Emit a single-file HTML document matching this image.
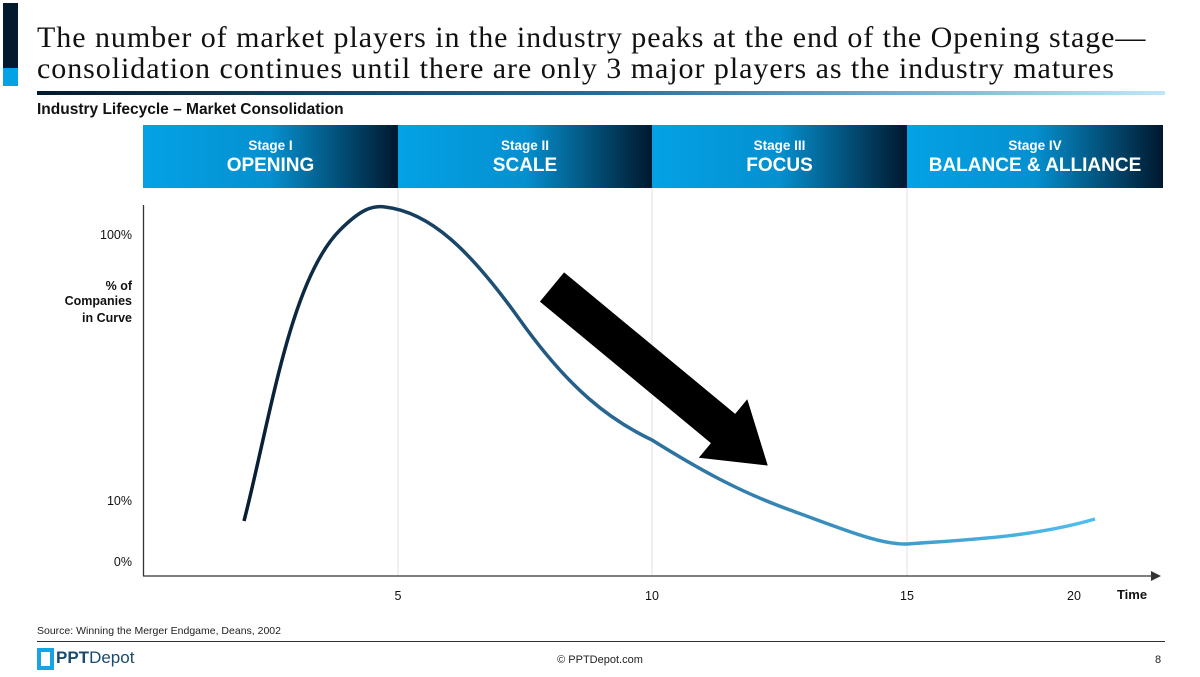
<!DOCTYPE html>
<html><head><meta charset="utf-8"><style>
body{margin:0;width:1200px;height:677px;background:#fff;position:relative;overflow:hidden;font-family:"Liberation Sans",sans-serif}
.a{position:absolute}
.stage{position:absolute;top:125px;height:63px;background:linear-gradient(90deg,#03a2e6 0%,#0590cf 50%,#00182e 100%);color:#fff;text-align:center;font-weight:bold}
.stage .s{font-size:13.5px;margin-top:13px}
.stage .n{font-size:19px;margin-top:2px}
</style></head><body>
<div class="a" style="left:3px;top:3px;width:15px;height:65px;background:#031a2e"></div>
<div class="a" style="left:3px;top:68px;width:15px;height:18px;background:#03a2e6"></div>
<div class="a" style="left:37px;top:22px;font-family:'Liberation Serif',serif;font-size:30px;letter-spacing:0.95px;line-height:31px;color:#111;white-space:nowrap">The number of market players in the industry peaks at the end of the Opening stage—<br>consolidation continues until there are only 3 major players as the industry matures</div>
<div class="a" style="left:37px;top:91px;width:1128px;height:4px;background:linear-gradient(90deg,#031a2e,#2a6b94 50%,#bfe6f8)"></div>
<div class="a" style="left:37px;top:101px;font-size:15.5px;font-weight:bold;color:#111">Industry Lifecycle – Market Consolidation</div>
<div class="stage" style="left:143px;width:255px"><div class="s">Stage I</div><div class="n">OPENING</div></div>
<div class="stage" style="left:398px;width:254px"><div class="s">Stage II</div><div class="n">SCALE</div></div>
<div class="stage" style="left:652px;width:255px"><div class="s">Stage III</div><div class="n">FOCUS</div></div>
<div class="stage" style="left:907px;width:256px"><div class="s">Stage IV</div><div class="n">BALANCE &amp; ALLIANCE</div></div>
<svg class="a" style="left:0;top:0" width="1200" height="677">
<defs><linearGradient id="g" x1="244" y1="0" x2="1095" y2="0" gradientUnits="userSpaceOnUse"><stop offset="0" stop-color="#071d33"/><stop offset="0.45" stop-color="#2a6a96"/><stop offset="1" stop-color="#4fbff0"/></linearGradient></defs>
<g stroke="#e2e2e2" stroke-width="1"><line x1="398" y1="188" x2="398" y2="576"/><line x1="652" y1="188" x2="652" y2="576"/><line x1="907" y1="188" x2="907" y2="576"/></g>
<line x1="143.5" y1="205" x2="143.5" y2="576" stroke="#333" stroke-width="1.3"/>
<line x1="143" y1="576" x2="1152" y2="576" stroke="#333" stroke-width="1.3"/>
<polygon points="1161,576 1151,571 1151,581" fill="#333"/>
<path d="M244,521 C270,420 290,280 340,230 C360,210 372,205 385,207 C430,212 470,250 520,320 C570,390 610,420 652,440 C700,470 740,492 790,510 C840,528 880,545 907,544 C960,540 1030,538 1095,519" fill="none" stroke="url(#g)" stroke-width="3.5"/>
<g transform="translate(552,287) rotate(39.6)"><polygon points="0,-19 222,-19 222,-38 280,0 222,38 222,19 0,19" fill="#000"/></g>
<g font-size="12.5" fill="#111" text-anchor="middle"><text x="398" y="600">5</text><text x="652" y="600">10</text><text x="907" y="600">15</text><text x="1074" y="600">20</text></g>
<text x="1132" y="599" font-size="13" font-weight="bold" text-anchor="middle" fill="#111">Time</text>
<g font-size="12.5" fill="#111" text-anchor="end"><text x="132" y="239">100%</text><text x="132" y="505">10%</text><text x="132" y="566">0%</text></g>
<g font-size="12.5" font-weight="bold" fill="#111" text-anchor="end"><text x="132" y="290">% of</text><text x="132" y="305">Companies</text><text x="132" y="322">in Curve</text></g>
</svg>
<div class="a" style="left:37px;top:625px;font-size:10.5px;color:#222">Source: Winning the Merger Endgame, Deans, 2002</div>
<div class="a" style="left:37px;top:641px;width:1128px;height:1px;background:#333"></div>
<div class="a" style="left:37px;top:648px;border:4px solid #1aa3e3;box-sizing:border-box;width:17px;height:22px"></div>
<div class="a" style="left:56px;top:648px;font-size:17px;color:#1a4a6e"><b>PPT</b>Depot</div>
<div class="a" style="left:0;width:1200px;top:654px;text-align:center;font-size:11px;color:#222">© PPTDepot.com</div>
<div class="a" style="left:1155px;top:654px;font-size:11px;color:#222">8</div>
</body></html>
